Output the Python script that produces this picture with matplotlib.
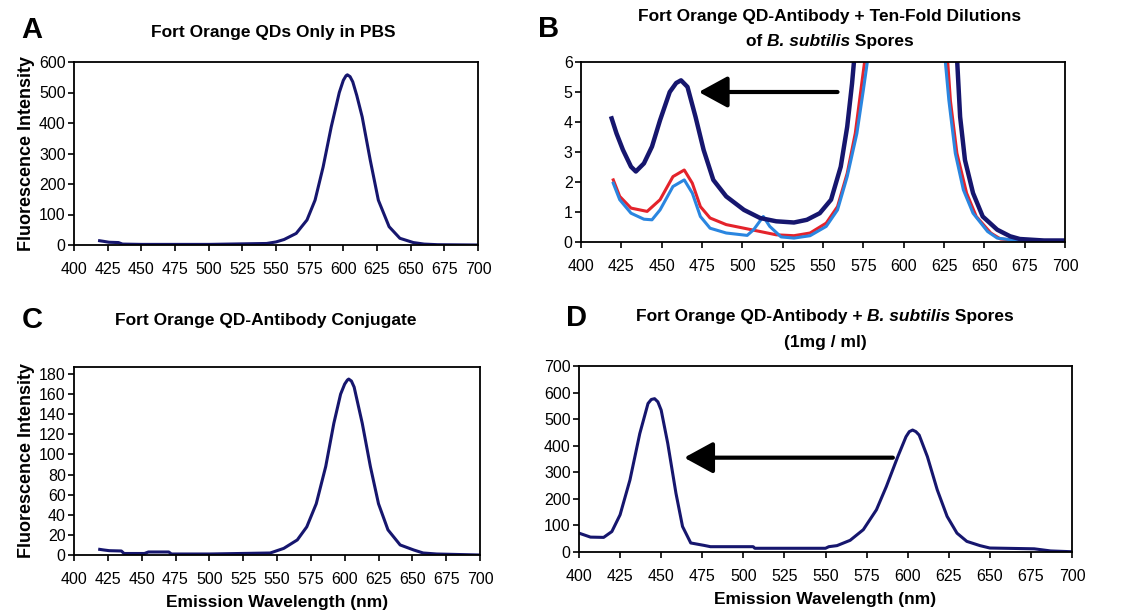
import matplotlib.pyplot as plt

plt.rcParams['font.family'] = ['Liberation Sans', 'DejaVu Sans']

NAVY = '#16166e'
RED = '#e4232b'
BLUE = '#2a86e0'

# Panel A: QDs only in PBS
a_wl = [419, 422, 426, 433, 436, 450, 500, 543, 550, 556, 565, 573, 579, 585, 591, 597,
        600, 602, 603, 605, 607, 610, 614, 620, 626, 634, 642, 652, 660, 670, 700]
a_int = [14, 12, 9, 8, 3, 2, 2, 5, 10, 18, 38, 82, 147, 256, 387, 500,
         540, 555, 558, 552, 535, 490, 420, 278, 147, 60, 22, 8, 3, 1, 0]

# Panel B: QD-antibody + ten-fold dilutions of spores (three curves)
b1_wl = [419, 422, 426, 431, 434, 439, 444, 449, 455, 459, 462, 466, 471, 476, 482, 490,
         501, 511, 521, 532, 540, 548, 555, 561, 565, 568, 570, 575, 585, 600, 615, 628,
         633, 635, 638, 643, 649, 658, 666, 672, 687, 700]
b1_int = [4.12, 3.62, 3.07, 2.51, 2.35, 2.62, 3.18, 4.06, 5.0, 5.3, 5.39, 5.17, 4.17, 3.07,
          2.07, 1.52, 1.07, 0.80, 0.69, 0.65, 0.74, 0.96, 1.41, 2.51, 3.84, 5.28, 6.5, 15,
          80, 350, 150, 15, 6.2, 4.17, 2.73, 1.63, 0.85, 0.41, 0.19, 0.10, 0.05, 0.05]

b2_wl = [420, 424, 431, 441, 449, 457, 464, 469, 474, 480, 490, 501, 511, 521, 532, 542,
         552, 559, 565, 570, 574, 577, 585, 600, 615, 626, 629, 633, 639, 645, 654, 660,
         672, 700]
b2_int = [2.07, 1.52, 1.13, 1.02, 1.41, 2.18, 2.40, 1.96, 1.18, 0.80, 0.58, 0.46, 0.35,
          0.24, 0.21, 0.30, 0.63, 1.18, 2.29, 3.62, 5.28, 6.5, 60, 300, 120, 7, 4.7, 2.96,
          1.63, 0.85, 0.30, 0.10, 0.05, 0.05]

b3_wl = [420, 424, 431, 439, 444, 449, 457, 464, 469, 474, 480, 490, 503, 507, 513, 517,
         524, 532, 542, 552, 559, 565, 571, 575, 578, 585, 600, 615, 625, 628, 632, 637,
         643, 652, 658, 670, 700]
b3_int = [1.96, 1.41, 0.96, 0.76, 0.74, 1.07, 1.85, 2.07, 1.63, 0.85, 0.46, 0.30, 0.22,
          0.41, 0.85, 0.52, 0.17, 0.13, 0.21, 0.52, 1.07, 2.18, 3.62, 5.06, 6.2, 50, 280,
          110, 6.5, 4.73, 2.96, 1.74, 0.96, 0.35, 0.13, 0.05, 0.05]

# Panel C: QD-antibody conjugate
c_wl = [419, 422, 426, 435, 437, 452, 455, 470, 472, 500, 545, 555, 565, 572, 579, 586,
        592, 597, 600, 602, 603, 605, 607, 613, 619, 625, 632, 641, 651, 658, 668, 700]
c_int = [5.6, 5.0, 4.3, 4.0, 1.5, 1.5, 3.0, 3.0, 1.0, 1.0, 2.0, 6.6, 15, 28, 51, 88,
         131, 160, 170, 174, 175, 173, 167, 131, 88, 51, 25, 10, 5, 2, 1, 0]

# Panel D: QD-antibody + spores (1 mg/ml)
d_wl = [400, 407, 415, 420, 425, 431, 437, 442, 444, 446, 448, 450, 454, 459, 463, 468,
        476, 480, 506, 507, 550, 552, 557, 565, 573, 581, 587, 594, 599, 601, 603, 605,
        607, 612, 618, 624, 630, 636, 644, 650, 677, 687, 700]
d_int = [71, 56, 55, 77, 140, 271, 446, 559, 574, 577, 565, 534, 409, 221, 96, 34,
         25, 20, 20, 14, 14, 20, 24, 44, 84, 159, 246, 359, 434, 453, 459, 453,
         440, 359, 234, 134, 71, 40, 24, 15, 12, 4, 1]

W, H = 1142, 613
fig = plt.figure(figsize=(W / 100, H / 100), dpi=100)
renderer = fig.canvas.get_renderer()


def add_ax(l, r, t, b):
    return fig.add_axes([l / W, 1 - b / H, (r - l) / W, (b - t) / H])


def style(ax, ylim, yticks):
    ax.set_xlim(400, 700)
    ax.set_xticks(range(400, 701, 25))
    ax.set_ylim(*ylim)
    ax.set_yticks(yticks)
    ax.tick_params(direction='out', length=4, width=1.2, labelsize=11.5, pad=2)
    ax.tick_params(axis='x', pad=8)
    for s in ax.spines.values():
        s.set_linewidth(1.3)


def mixed_title(cx, cy, parts, size=12.5):
    # parts: list of (text, fontstyle); one line centred at pixel (cx, cy), shared baseline
    texts = [fig.text(0, 1 - (cy + 5) / H, t, fontsize=size, fontweight='bold', style=st,
                      ha='left', va='baseline') for t, st in parts]
    widths = [t.get_window_extent(renderer).width for t in texts]
    x = cx - sum(widths) / 2
    for t, w in zip(texts, widths):
        t.set_x(x / W)
        x += w


ylab_kw = dict(fontsize=13, fontweight='bold', labelpad=3)
xlab_kw = dict(fontsize=12.5, fontweight='bold', labelpad=6)
arrow_kw = dict(arrowstyle='-|>,head_length=1.1,head_width=0.6',
                mutation_scale=16, color='black', lw=3, shrinkA=0, shrinkB=0)

axA = add_ax(74, 478, 62, 245)
axA.plot(a_wl, a_int, color=NAVY, lw=2.2)
style(axA, (0, 600), range(0, 601, 100))
axA.set_ylabel('Fluorescence Intensity', **ylab_kw)

axB = add_ax(581, 1065, 62, 242)
axB.plot(b2_wl, b2_int, color=RED, lw=2.2)
axB.plot(b3_wl, b3_int, color=BLUE, lw=2.2)
axB.plot(b1_wl, b1_int, color=NAVY, lw=3.2)
style(axB, (0, 6), range(0, 7))
axB.annotate('', xy=(473, 5.0), xytext=(559, 5.0), arrowprops=arrow_kw)

axC = add_ax(74, 480, 367, 555)
axC.plot(c_wl, c_int, color=NAVY, lw=2.2)
style(axC, (0, 187), range(0, 181, 20))
axC.set_ylabel('Fluorescence Intensity', **ylab_kw)
axC.set_xlabel('Emission Wavelength (nm)', **xlab_kw)

axD = add_ax(579, 1072, 366, 552)
axD.plot(d_wl, d_int, color=NAVY, lw=2.2)
style(axD, (0, 700), range(0, 701, 100))
axD.set_xlabel('Emission Wavelength (nm)', **xlab_kw)
axD.annotate('', xy=(464, 355), xytext=(591, 355), arrowprops=arrow_kw)

# panel letters and titles
letter_kw = dict(fontsize=21, fontweight='bold', ha='center', va='center')
title_kw = dict(fontsize=12.5, fontweight='bold', ha='center', va='center')
fig.text(32 / W, 1 - 30 / H, 'A', **letter_kw)
fig.text(549 / W, 1 - 29 / H, 'B', **letter_kw)
fig.text(32 / W, 1 - 320 / H, 'C', **letter_kw)
fig.text(576 / W, 1 - 318 / H, 'D', **letter_kw)

fig.text(273 / W, 1 - 33 / H, 'Fort Orange QDs Only in PBS', **title_kw)
fig.text(830 / W, 1 - 16 / H, 'Fort Orange QD-Antibody + Ten-Fold Dilutions', **title_kw)
mixed_title(830, 41, [('of ', 'normal'), ('B. subtilis', 'italic'), (' Spores', 'normal')])
fig.text(266 / W, 1 - 320 / H, 'Fort Orange QD-Antibody Conjugate', **title_kw)
mixed_title(825, 316, [('Fort Orange QD-Antibody + ', 'normal'),
                       ('B. subtilis', 'italic'), (' Spores', 'normal')])
fig.text(825 / W, 1 - 343 / H, '(1mg / ml)', **title_kw)

fig.savefig('out.png', dpi=100)
